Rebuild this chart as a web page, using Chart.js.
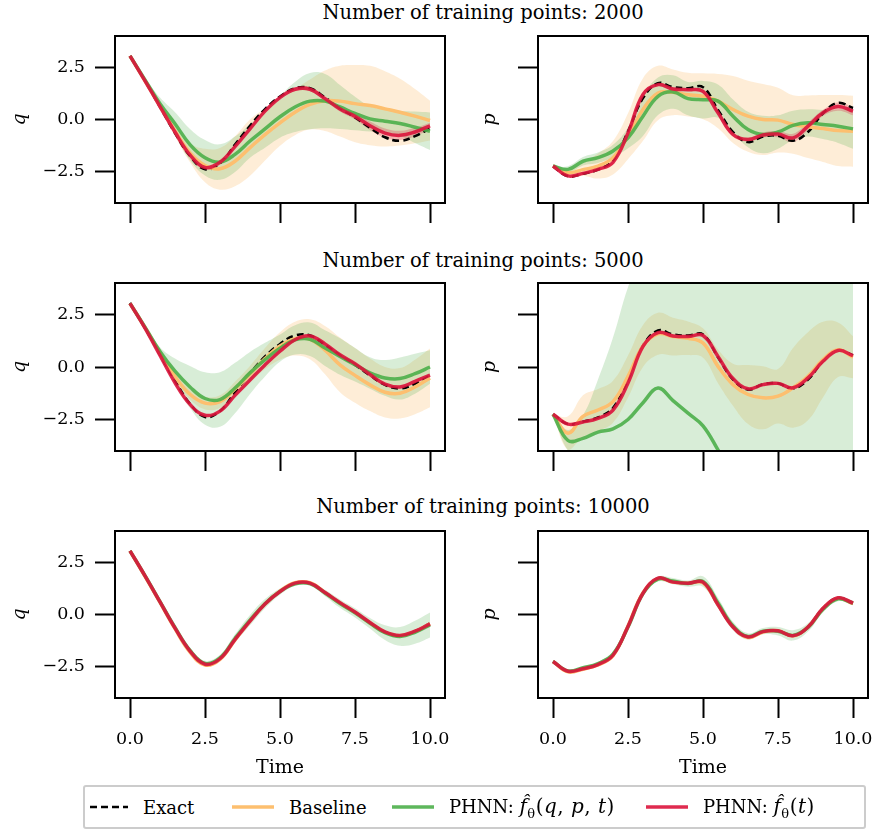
<!DOCTYPE html>
<html>
<head>
<meta charset="utf-8">
<script src="https://cdn.jsdelivr.net/npm/chart.js@4.4.0/dist/chart.umd.min.js"></script>
<style>
  body { margin: 0; background: #fff; width: 876px; height: 832px; position: relative; overflow: hidden; font-family: "DejaVu Serif", serif; color: #000; }
  canvas { position: absolute; }
  .title { position: absolute; left: 0; width: 966px; text-align: center; font-size: 19.5px; line-height: 22px; }
  #legend { position: absolute; left: 83px; top: 785px; width: 783px; height: 44px; box-sizing: border-box; border: 2px solid #cccccc; border-radius: 3px; font-size: 18px; }
  .item { position: absolute; top: 0; height: 40px; display: flex; align-items: center; white-space: nowrap; }
  .item svg { margin-right: 15px; }
  .m { font-size: 20px; letter-spacing: 0.5px; }
  .m sub { font-size: 13px; }
</style>
</head>
<body>
<div class="title" style="top:2px">Number of training points: 2000</div>
<div class="title" style="top:250px">Number of training points: 5000</div>
<div class="title" style="top:496px">Number of training points: 10000</div>

<canvas id="c1" width="456" height="201" style="left:0;top:26px"></canvas>
<canvas id="c2" width="431" height="201" style="left:445px;top:26px"></canvas>
<canvas id="c3" width="456" height="202" style="left:0;top:273px"></canvas>
<canvas id="c4" width="431" height="202" style="left:445px;top:273px"></canvas>
<canvas id="c5" width="456" height="262" style="left:0;top:521px"></canvas>
<canvas id="c6" width="431" height="262" style="left:445px;top:521px"></canvas>

<div id="legend">
  <span class="item" style="left:5px"><svg width="38" height="8"><line x1="0" y1="4" x2="38" y2="4" stroke="#000" stroke-width="2.5" stroke-dasharray="7,4"/></svg><span>Exact</span></span>
  <span class="item" style="left:147px"><svg width="42" height="8"><line x1="0" y1="4" x2="42" y2="4" stroke="#fdbf6f" stroke-width="3.5"/></svg><span>Baseline</span></span>
  <span class="item" style="left:307px"><svg width="42" height="8"><line x1="0" y1="4" x2="42" y2="4" stroke="rgba(77,175,74,0.9)" stroke-width="3.5"/></svg><span>PHNN: <span class="m"><i>f&#770;</i><sub>θ</sub>(<i>q</i>, <i>p</i>, <i>t</i>)</span></span></span>
  <span class="item" style="left:561px"><svg width="42" height="8"><line x1="0" y1="4" x2="42" y2="4" stroke="rgba(220,20,60,0.9)" stroke-width="3.5"/></svg><span>PHNN: <span class="m"><i>f&#770;</i><sub>θ</sub>(<i>t</i>)</span></span></span>
</div>

<script>
// time grid and axis ticks
const T = [0, 0.5, 1, 1.5, 2, 2.5, 3, 3.5, 4, 4.5, 5, 5.5, 6, 6.5, 7, 7.5, 8, 8.5, 9, 9.5, 10];
const xTicks = [0, 2.5, 5, 7.5, 10];
const yTicks = [-2.5, 0, 2.5];

// exact trajectories
const exactQ = [3.05, 1.85, 0.6, -0.65, -1.75, -2.38, -2.1, -1.2, -0.3, 0.5, 1.1, 1.5, 1.5, 1.05, 0.55, 0.1, -0.4, -0.85, -1.02, -0.8, -0.42];
const exactP = [-2.25, -2.72, -2.6, -2.4, -1.95, -0.57, 1.02, 1.74, 1.55, 1.5, 1.55, 0.46, -0.6, -1.08, -0.82, -0.78, -1.02, -0.6, 0.3, 0.8, 0.55];

// 2000 training points
const q2000Base = [3.05, 1.85, 0.65, -0.55, -1.6, -2.2, -2.36, -2.0, -1.35, -0.72, -0.16, 0.35, 0.72, 0.9, 0.88, 0.76, 0.67, 0.51, 0.35, 0.16, -0.05];
const q2000Full = [3.05, 1.9, 0.75, -0.2, -1.2, -1.83, -2.04, -1.67, -1.03, -0.45, 0.13, 0.6, 0.88, 0.88, 0.6, 0.29, 0.03, -0.08, -0.19, -0.37, -0.56];
const q2000Time = [3.05, 1.85, 0.62, -0.6, -1.7, -2.3, -2.05, -1.3, -0.45, 0.4, 1.05, 1.45, 1.45, 1.0, 0.5, 0.15, -0.3, -0.65, -0.76, -0.6, -0.3];
const q2000BaseSd = [0, 0.05, 0.1, 0.25, 0.45, 0.8, 1.0, 1.2, 1.35, 1.25, 1.1, 1.1, 1.2, 1.45, 1.7, 1.85, 1.9, 1.8, 1.6, 1.3, 0.95];
const q2000FullSd = [0, 0.1, 0.3, 0.55, 0.75, 0.85, 0.85, 0.85, 0.8, 0.9, 1.0, 1.2, 1.35, 1.3, 1.05, 0.8, 0.6, 0.55, 0.6, 0.75, 0.9];
const q2000TimeSd = [0, 0.03, 0.03, 0.04, 0.05, 0.05, 0.05, 0.06, 0.06, 0.07, 0.08, 0.1, 0.1, 0.1, 0.12, 0.15, 0.2, 0.22, 0.22, 0.2, 0.15];

const p2000Base = [-2.23, -2.55, -2.4, -2.23, -1.83, -0.8, 0.48, 1.27, 1.3, 1.19, 1.11, 0.88, 0.48, 0.16, 0.0, -0.03, -0.24, -0.35, -0.43, -0.53, -0.56];
const p2000Full = [-2.23, -2.39, -2.0, -1.83, -1.51, -0.88, 0.16, 1.11, 1.32, 1.0, 0.95, 0.88, 0.16, -0.48, -0.72, -0.6, -0.28, -0.16, -0.24, -0.32, -0.45];
const p2000Time = [-2.23, -2.7, -2.58, -2.39, -2.05, -0.64, 1.2, 1.67, 1.46, 1.43, 1.35, 0.32, -0.72, -0.96, -0.74, -0.7, -0.88, -0.32, 0.32, 0.62, 0.4];
const p2000BaseSd = [0, 0.15, 0.3, 0.6, 0.8, 1.1, 1.5, 1.3, 1.1, 1.05, 1.1, 1.3, 1.6, 1.7, 1.7, 1.55, 1.4, 1.5, 1.6, 1.7, 1.7];
const p2000FullSd = [0, 0.15, 0.2, 0.25, 0.3, 0.5, 0.95, 0.9, 0.8, 0.8, 0.9, 0.8, 0.8, 0.85, 0.9, 0.8, 0.7, 0.65, 0.7, 0.8, 0.95];
const p2000TimeSd = [0.03, 0.05, 0.05, 0.05, 0.05, 0.08, 0.1, 0.08, 0.06, 0.06, 0.07, 0.1, 0.1, 0.1, 0.12, 0.15, 0.2, 0.18, 0.15, 0.2, 0.2];

// 5000 training points
const q5000Base = [3.03, 1.88, 0.68, -0.45, -1.3, -1.72, -1.65, -1.05, -0.35, 0.4, 1.0, 1.35, 1.32, 0.8, 0.1, -0.4, -0.85, -1.2, -1.25, -0.95, -0.52];
const q5000Full = [3.03, 1.9, 0.74, -0.2, -0.95, -1.5, -1.55, -1.0, -0.28, 0.35, 0.9, 1.29, 1.32, 0.9, 0.5, 0.11, -0.28, -0.52, -0.55, -0.32, 0.0];
const q5000Time = [3.03, 1.85, 0.55, -0.75, -1.78, -2.3, -2.1, -1.35, -0.62, 0.1, 0.75, 1.3, 1.48, 1.1, 0.58, 0.16, -0.36, -0.82, -0.95, -0.68, -0.39];
const q5000BaseSd = [0, 0.05, 0.1, 0.2, 0.25, 0.3, 0.3, 0.35, 0.4, 0.5, 0.65, 0.8, 0.95, 1.15, 1.3, 1.3, 1.25, 1.2, 1.2, 1.3, 1.4];
const q5000FullSd = [0, 0.05, 0.2, 0.6, 1.0, 1.25, 1.3, 1.2, 1.0, 0.8, 0.65, 0.7, 0.8, 0.85, 0.87, 0.8, 0.75, 0.85, 1.0, 0.95, 0.8];
const q5000TimeSd = [0, 0.02, 0.03, 0.03, 0.04, 0.05, 0.05, 0.05, 0.05, 0.05, 0.05, 0.05, 0.05, 0.05, 0.05, 0.06, 0.06, 0.07, 0.07, 0.06, 0.06];

const p5000Base = [-2.25, -3.15, -2.35, -2.05, -1.65, -0.45, 1.0, 1.58, 1.45, 1.37, 1.14, 0.03, -0.84, -1.31, -1.47, -1.39, -0.99, -0.44, 0.35, 0.82, 0.47];
const p5000Full = [-2.25, -3.5, -3.4, -3.1, -2.95, -2.5, -1.7, -1.0, -1.6, -2.2, -2.8, -3.95, -5.2, -6.3, -7.4, -8.5, -9.6, -10.7, -11.8, -12.9, -14];
const p5000Time = [-2.25, -2.72, -2.62, -2.45, -2.05, -0.76, 0.98, 1.64, 1.48, 1.45, 1.5, 0.5, -0.55, -1.04, -0.84, -0.78, -0.99, -0.52, 0.27, 0.79, 0.54];
const p5000BaseSd = [0, 0.8, 1.0, 1.0, 1.0, 1.0, 1.0, 1.0, 0.9, 0.8, 0.7, 0.8, 1.0, 1.4, 1.5, 1.3, 1.9, 2.1, 1.8, 1.3, 1.0];
const p5000FullSd = [0, 0.5, 1.1, 2.5, 4.35, 6.3, 7.2, 7.5, 8, 8.5, 9, 10, 11, 12, 13, 14, 15, 16, 17, 18, 19];
const p5000TimeSd = [0.02, 0.03, 0.03, 0.03, 0.04, 0.05, 0.05, 0.05, 0.05, 0.05, 0.05, 0.05, 0.06, 0.06, 0.06, 0.06, 0.07, 0.07, 0.07, 0.07, 0.07];

// 10000 training points
const q10000Base = [3.05, 1.83, 0.58, -0.68, -1.8, -2.42, -2.15, -1.22, -0.3, 0.5, 1.12, 1.52, 1.52, 1.05, 0.55, 0.1, -0.4, -0.85, -1.02, -0.82, -0.45];
const q10000Full = [3.05, 1.86, 0.62, -0.62, -1.72, -2.34, -2.08, -1.15, -0.27, 0.52, 1.1, 1.47, 1.48, 1.03, 0.52, 0.08, -0.42, -0.87, -1.05, -0.85, -0.5];
const q10000Time = [3.05, 1.85, 0.6, -0.65, -1.75, -2.38, -2.12, -1.2, -0.32, 0.5, 1.1, 1.5, 1.5, 1.05, 0.57, 0.12, -0.38, -0.83, -1.0, -0.8, -0.45];
const q10000BaseSd = [0, 0.03, 0.04, 0.05, 0.06, 0.08, 0.07, 0.06, 0.05, 0.05, 0.06, 0.08, 0.07, 0.06, 0.06, 0.06, 0.06, 0.06, 0.07, 0.08, 0.08];
const q10000FullSd = [0, 0.03, 0.06, 0.1, 0.12, 0.12, 0.15, 0.2, 0.25, 0.22, 0.15, 0.1, 0.1, 0.15, 0.2, 0.22, 0.25, 0.35, 0.45, 0.55, 0.6];
const q10000TimeSd = [0, 0.02, 0.02, 0.02, 0.02, 0.03, 0.03, 0.03, 0.03, 0.03, 0.03, 0.03, 0.03, 0.03, 0.03, 0.03, 0.03, 0.03, 0.04, 0.04, 0.04];

const p10000Base = [-2.25, -2.75, -2.62, -2.42, -1.97, -0.55, 1.05, 1.72, 1.56, 1.5, 1.52, 0.48, -0.58, -1.1, -0.84, -0.78, -1.02, -0.6, 0.28, 0.78, 0.52];
const p10000Full = [-2.25, -2.7, -2.55, -2.35, -1.9, -0.6, 1.0, 1.7, 1.6, 1.48, 1.58, 0.55, -0.55, -1.05, -0.8, -0.8, -1.0, -0.62, 0.25, 0.75, 0.55];
const p10000Time = [-2.25, -2.72, -2.6, -2.4, -1.95, -0.57, 1.02, 1.74, 1.55, 1.5, 1.55, 0.46, -0.6, -1.08, -0.82, -0.78, -1.02, -0.6, 0.3, 0.8, 0.55];
const p10000BaseSd = [0, 0.04, 0.04, 0.05, 0.05, 0.06, 0.06, 0.06, 0.05, 0.05, 0.05, 0.06, 0.06, 0.05, 0.05, 0.05, 0.05, 0.05, 0.06, 0.06, 0.06];
const p10000FullSd = [0, 0.05, 0.05, 0.08, 0.1, 0.1, 0.1, 0.12, 0.15, 0.15, 0.25, 0.25, 0.2, 0.15, 0.15, 0.2, 0.25, 0.2, 0.15, 0.12, 0.1];
const p10000TimeSd = [0, 0.02, 0.02, 0.02, 0.02, 0.03, 0.03, 0.03, 0.03, 0.03, 0.03, 0.03, 0.03, 0.03, 0.03, 0.03, 0.03, 0.03, 0.03, 0.03, 0.03];

const BASE = '#fdbf6f', FULL = 'rgba(77,175,74,0.9)', TIME = 'rgba(220,20,60,0.9)';
const BASE_BAND = 'rgba(253,191,111,0.28)', FULL_BAND = 'rgba(77,175,74,0.22)', TIME_BAND = 'rgba(220,20,60,0.25)';

const panels = [
  { id: 'c1', exact: exactQ, base: q2000Base, full: q2000Full, time: q2000Time, baseSd: q2000BaseSd, fullSd: q2000FullSd, timeSd: q2000TimeSd, label: 'q', left: true, last: false },
  { id: 'c2', exact: exactP, base: p2000Base, full: p2000Full, time: p2000Time, baseSd: p2000BaseSd, fullSd: p2000FullSd, timeSd: p2000TimeSd, label: 'p', left: false, last: false },
  { id: 'c3', exact: exactQ, base: q5000Base, full: q5000Full, time: q5000Time, baseSd: q5000BaseSd, fullSd: q5000FullSd, timeSd: q5000TimeSd, label: 'q', left: true, last: false },
  { id: 'c4', exact: exactP, base: p5000Base, full: p5000Full, time: p5000Time, baseSd: p5000BaseSd, fullSd: p5000FullSd, timeSd: p5000TimeSd, label: 'p', left: false, last: false },
  { id: 'c5', exact: exactQ, base: q10000Base, full: q10000Full, time: q10000Time, baseSd: q10000BaseSd, fullSd: q10000FullSd, timeSd: q10000TimeSd, label: 'q', left: true, last: true },
  { id: 'c6', exact: exactP, base: p10000Base, full: p10000Full, time: p10000Time, baseSd: p10000BaseSd, fullSd: p10000FullSd, timeSd: p10000TimeSd, label: 'p', left: false, last: true }
];

function pts(arr) {
  return T.map((t, i) => ({ x: t, y: arr[i] }));
}
function shift(arr, sd, sign) {
  return arr.map((v, i) => v + sign * sd[i]);
}
function line(arr, color, width, dash) {
  return { data: pts(arr), borderColor: color, borderWidth: width, borderDash: dash || [], pointRadius: 0, fill: false, clip: 0, tension: 0.4 };
}
function band(arr, sd, color) {
  return [
    { data: pts(shift(arr, sd, 1)), borderWidth: 0, borderColor: 'rgba(0,0,0,0)', backgroundColor: color, pointRadius: 0, fill: '+1', clip: 0, tension: 0.4 },
    { data: pts(shift(arr, sd, -1)), borderWidth: 0, borderColor: 'rgba(0,0,0,0)', pointRadius: 0, fill: false, clip: 0, tension: 0.4 }
  ];
}

// frame around the plotting area
const boxPlugin = {
  id: 'box',
  afterDraw(chart) {
    const a = chart.chartArea, ctx = chart.ctx;
    ctx.save();
    ctx.lineWidth = 2;
    ctx.strokeStyle = '#000';
    ctx.strokeRect(a.left, a.top, a.right - a.left, a.bottom - a.top);
    ctx.restore();
  }
};

function fmt(v) {
  return (v < 0 ? '\u2212' : '') + Math.abs(v).toFixed(1);
}

const tickFont = { family: 'DejaVu Serif', size: 17.5 };

panels.forEach(function (p) {
  const ds = [
    line(p.time, TIME, 3.5),
    line(p.full, FULL, 3.5),
    line(p.base, BASE, 3.5),
    line(p.exact, '#000', 2.5, [7, 4])
  ].concat(band(p.time, p.timeSd, TIME_BAND), band(p.full, p.fullSd, FULL_BAND), band(p.base, p.baseSd, BASE_BAND));

  new Chart(document.getElementById(p.id), {
    type: 'line',
    data: { datasets: ds },
    options: {
      responsive: false,
      animation: false,
      events: [],
      layout: { padding: { top: 10, right: p.left ? 11 : 8, left: 0, bottom: 0 } },
      plugins: { legend: { display: false }, tooltip: { enabled: false } },
      scales: {
        x: {
          type: 'linear',
          min: -0.5,
          max: 10.5,
          afterBuildTicks: function (s) { s.ticks = xTicks.map(v => ({ value: v })); },
          afterFit: function (s) { s.height = p.last ? 85 : 24; s.paddingLeft = 0; s.paddingRight = 0; },
          grid: { display: true, drawOnChartArea: false, drawTicks: true, tickLength: 20, tickWidth: 2, tickColor: '#000' },
          border: { display: false },
          ticks: { display: p.last, font: tickFont, color: '#000', padding: 11, maxRotation: 0, callback: fmt },
          title: { display: p.last, text: 'Time', color: '#000', font: { family: 'DejaVu Serif', size: 19 }, padding: { top: 0, bottom: 4 } }
        },
        y: {
          min: -4,
          max: 4,
          afterBuildTicks: function (s) { s.ticks = yTicks.map(v => ({ value: v })); },
          afterFit: function (s) { s.width = p.left ? 115 : 93; s.paddingTop = 0; s.paddingBottom = 0; },
          grid: { display: true, drawOnChartArea: false, drawTicks: true, tickLength: 20, tickWidth: 2, tickColor: '#000' },
          border: { display: false },
          ticks: { display: p.left, font: tickFont, color: '#000', padding: 10, callback: fmt },
          title: { display: true, text: p.label, color: '#000', font: { family: 'DejaVu Serif', size: 19, style: 'italic' }, padding: { top: p.left ? 9 : 34, bottom: 0 } }
        }
      }
    },
    plugins: [boxPlugin]
  });
});
</script>
</body>
</html>
